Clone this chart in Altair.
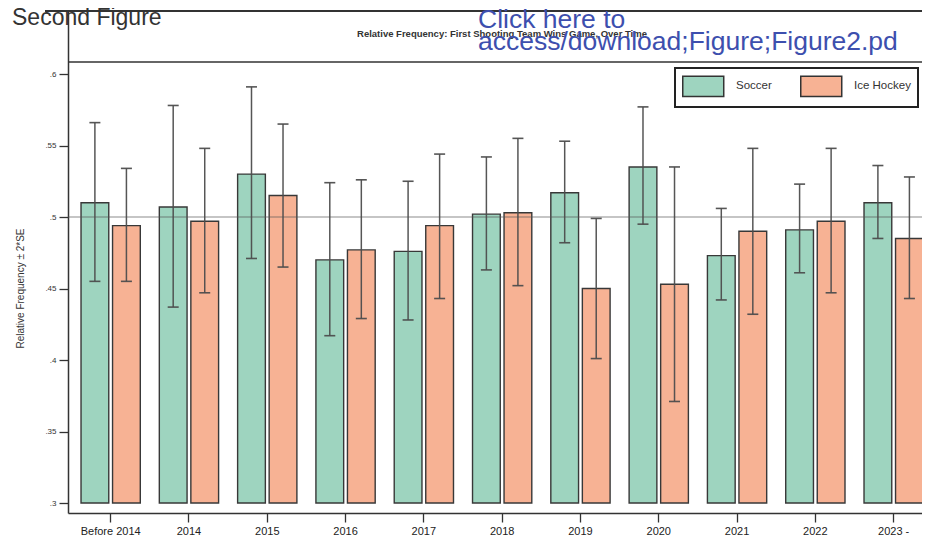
import altair as alt
import pandas as pd

# ---------------- data ----------------
periods = ["Before 2014", "2014", "2015", "2016", "2017", "2018",
           "2019", "2020", "2021", "2022", "2023 -"]
sports = ["Soccer", "Ice Hockey"]

soccer_val = [0.510, 0.507, 0.530, 0.470, 0.476, 0.502, 0.517, 0.535, 0.473, 0.491, 0.510]
soccer_hi = [0.566, 0.578, 0.591, 0.524, 0.525, 0.542, 0.553, 0.577, 0.506, 0.523, 0.536]
soccer_lo = [0.455, 0.437, 0.471, 0.417, 0.428, 0.463, 0.482, 0.495, 0.442, 0.461, 0.485]

hockey_val = [0.494, 0.497, 0.515, 0.477, 0.494, 0.503, 0.450, 0.453, 0.490, 0.497, 0.485]
hockey_hi = [0.534, 0.548, 0.565, 0.526, 0.544, 0.555, 0.499, 0.535, 0.548, 0.548, 0.528]
hockey_lo = [0.455, 0.447, 0.465, 0.429, 0.443, 0.452, 0.401, 0.371, 0.432, 0.447, 0.443]

y_ticks = [0.3, 0.35, 0.4, 0.45, 0.5, 0.55, 0.6]
bar_base = 0.3
ref_value = 0.5
title_box_line = 0.6084
y_domain = [0.29301, 0.64406]

chart_title = "Relative Frequency: First Shooting Team Wins Game, Over Time"
page_label = "Second Figure"
link_line1 = "Click here to"
link_line2 = "access/download;Figure;Figure2.pd"

colors = ["#9ed4bf", "#f7b294"]

rows = []
for i, p in enumerate(periods):
    rows.append({"period": p, "sport": "Soccer", "value": soccer_val[i],
                 "lo": soccer_lo[i], "hi": soccer_hi[i], "base": bar_base})
    rows.append({"period": p, "sport": "Ice Hockey", "value": hockey_val[i],
                 "lo": hockey_lo[i], "hi": hockey_hi[i], "base": bar_base})
df = pd.DataFrame(rows)

W = 854          # visible plot width (svg must stay within the 914px body)
XRANGE = 862     # the figure itself runs a little past the window edge
H = 502
FONT = "Liberation Sans"

xscale = alt.Scale(paddingInner=0.243, paddingOuter=0.126, align=0.66, range=[0, XRANGE])
xoff = alt.XOffset("sport:N", sort=sports,
                   scale=alt.Scale(paddingInner=0.12, paddingOuter=0))
yscale = alt.Scale(domain=y_domain, nice=False, zero=False)

base = alt.Chart(df)

bars = base.mark_bar(stroke="#383838", strokeWidth=1.4).encode(
    x=alt.X("period:N", sort=periods, scale=xscale,
            axis=alt.Axis(title=None, labelAngle=0, tickSize=9, labelPadding=3,
                          labelFontSize=11, labelColor="#222", labelFont=FONT,
                          domainColor="#333", domainWidth=1.5,
                          tickColor="#333", tickWidth=1.3)),
    xOffset=xoff,
    y=alt.Y("value:Q", scale=yscale,
            axis=alt.Axis(values=y_ticks, grid=False, tickSize=9, labelPadding=3,
                          labelExpr="substring(format(datum.value, '.2~f'), 1)",
                          labelFontSize=8, labelColor="#333", labelFont=FONT,
                          domainColor="#333", domainWidth=1.5,
                          tickColor="#333", tickWidth=1.3,
                          title="Relative Frequency ± 2*SE",
                          titleFontSize=10, titleFontWeight="normal",
                          titleColor="#333", titleFont=FONT,
                          titleAngle=270, titleX=-48, titleY=277,
                          titleAlign="center", titleBaseline="middle")),
    y2="base:Q",
    fill=alt.Fill("sport:N", scale=alt.Scale(domain=sports, range=colors),
                  legend=alt.Legend(title=None, orient="none", legendX=607, legendY=57,
                                    direction="horizontal",
                                    symbolType="M-1,-1H3V1H-1Z",
                                    symbolSize=420,
                                    symbolStrokeColor="#333",
                                    symbolStrokeWidth=1.5,
                                    symbolOpacity=1,
                                    labelFont=FONT, labelFontSize=11.5, labelColor="#333",
                                    labelOffset=32,
                                    columnPadding=25,
                                    padding=7,
                                    strokeColor="#222",
                                    fillColor="white",
                                    cornerRadius=0)),
)

ref = alt.Chart(pd.DataFrame({"v": [ref_value]})).mark_rule(
    color="#555", opacity=0.45, strokeWidth=1.6
).encode(y=alt.Y("v:Q", scale=yscale))

err = base.mark_rule(color="#4d4d4d", strokeWidth=1.5, opacity=0.95).encode(
    x=alt.X("period:N", sort=periods),
    xOffset=xoff,
    y=alt.Y("lo:Q", scale=yscale),
    y2="hi:Q",
)
cap_hi = base.mark_tick(color="#4d4d4d", size=11, thickness=1.6, opacity=0.95).encode(
    x=alt.X("period:N", sort=periods), xOffset=xoff, y=alt.Y("hi:Q", scale=yscale))
cap_lo = base.mark_tick(color="#4d4d4d", size=11, thickness=1.6, opacity=0.95).encode(
    x=alt.X("period:N", sort=periods), xOffset=xoff, y=alt.Y("lo:Q", scale=yscale))

box_line = alt.Chart(pd.DataFrame({"v": [title_box_line]})).mark_rule(
    color="#333", strokeWidth=1.5
).encode(y=alt.Y("v:Q", scale=yscale))

top_line = alt.Chart(pd.DataFrame({"v": [y_domain[1]]})).mark_rule(
    color="#333", strokeWidth=1.8
).encode(y=alt.Y("v:Q", scale=yscale), x=alt.value(-23), x2=alt.value(W))

title_txt = alt.Chart(pd.DataFrame({"t": [chart_title]})).mark_text(
    font=FONT, fontSize=9.5, fontWeight="bold", color="#333", align="center", baseline="middle"
).encode(text="t:N", x=alt.value(434), y=alt.value(23))

page_txt = alt.Chart(pd.DataFrame({"t": [page_label]})).mark_text(
    font=FONT, fontSize=23, color="#333", align="left", baseline="alphabetic"
).encode(text="t:N", x=alt.value(-56), y=alt.value(14))

link1 = alt.Chart(pd.DataFrame({"t": [link_line1]})).mark_text(
    font=FONT, fontSize=26.5, color="#3d4fae", align="left", baseline="alphabetic"
).encode(text="t:N", x=alt.value(410), y=alt.value(16.5))

link2 = alt.Chart(pd.DataFrame({"t": [link_line2]})).mark_text(
    font=FONT, fontSize=26.5, color="#3d4fae", align="left", baseline="alphabetic"
).encode(text="t:N", x=alt.value(410), y=alt.value(38.5))

chart = alt.layer(
    bars, ref, err, cap_hi, cap_lo, box_line, top_line, title_txt, page_txt, link1, link2
).properties(
    width=W, height=H,
    autosize=alt.AutoSizeParams(type="none"),
    padding={"left": 60, "top": 3, "right": 0, "bottom": 30},
).configure(
    font=FONT
).configure_view(
    stroke=None
).configure_legend(
    strokeWidth=2
)

chart.save("out.html", embed_options={"renderer": "svg", "actions": False})
